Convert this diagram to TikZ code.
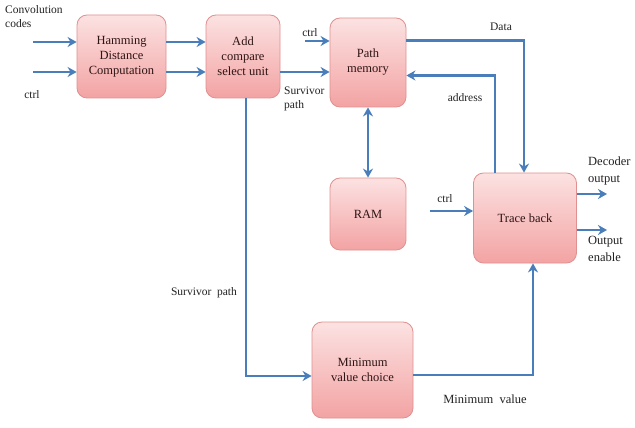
\documentclass[tikz,border=0pt]{standalone}
\usepackage{fontspec}
\setmainfont{Liberation Serif}
\usetikzlibrary{arrows.meta,calc}
\definecolor{arrowblue}{HTML}{4A7EBB}
\definecolor{boxtop}{HTML}{FCE2E2}
\definecolor{boxbot}{HTML}{F3A3A3}
\definecolor{boxline}{HTML}{E09090}
\definecolor{boxtext}{HTML}{2E1414}
\definecolor{labtext}{HTML}{222222}
\tikzset{
  blk/.style={draw=boxline, line width=0.8pt, rounded corners=10pt, top color=boxtop, bottom color=boxbot,
    text=boxtext, align=center, font=\fontsize{12.5}{15}\selectfont, inner sep=0pt},
  conn/.style={draw=arrowblue, line width=2.9pt, -{Stealth[length=9pt,width=10pt]}},
  both/.style={draw=arrowblue, line width=2.9pt, {Stealth[length=9pt,width=10pt]}-{Stealth[length=9pt,width=10pt]}},
  lab/.style={text=labtext, font=\fontsize{11.5}{14}\selectfont, inner sep=0pt},
}
\begin{document}
\begin{tikzpicture}[x=1pt,y=-1pt]
\useasboundingbox (0,0) rectangle (635,428);
\fill[white] (0,0) rectangle (635,428);
% blocks
\node[blk, minimum width=89pt, minimum height=83pt] (ham) at (121.5,56.5) {Hamming\\Distance\\Computation};
\node[blk, minimum width=74pt, minimum height=83pt] (acs) at (243,56.5) {Add\\compare\\select unit};
\node[blk, minimum width=76pt, minimum height=89pt] (pm) at (368,62.5) {Path\\memory};
\node[blk, minimum width=76pt, minimum height=72pt] (ram) at (368,214) {RAM};
\node[blk, minimum width=103pt, minimum height=90pt] (tb) at (525,218) {Trace back};
\node[blk, minimum width=101pt, minimum height=96pt] (mv) at (362.5,370) {Minimum\\value choice};
% free ends
\coordinate (cin) at (33,42);
\coordinate (ctin) at (33,72);
\coordinate (pmc) at (305,41);
\coordinate (tbc) at (430,211);
\coordinate (dout) at (607,194);
\coordinate (oen) at (607,230);
% connectors
\draw[conn] (cin) -- (ham.west |- cin);
\draw[conn] (ctin) -- (ham.west |- ctin);
\draw[conn] ([yshift=14.5pt]ham.east) -- ([yshift=14.5pt]acs.west);
\draw[conn] ([yshift=-15.5pt]ham.east) -- ([yshift=-15.5pt]acs.west);
\draw[conn] (pmc) -- (pm.west |- pmc);
\draw[conn] ([yshift=-15.5pt]acs.east) -- ([yshift=-9.5pt]pm.west);
\draw[conn] ([yshift=22pt]pm.east) -| ([xshift=-1pt]tb.north);
\draw[conn] ([xshift=-30pt]tb.north) |- ([yshift=-13pt]pm.east);
\draw[both] (pm.south) -- (ram.north);
\draw[conn] (tbc) -- (tb.west |- tbc);
\draw[conn] (tb.east |- dout) -- (dout);
\draw[conn] (tb.east |- oen) -- (oen);
\draw[conn] ([xshift=3pt]acs.south) |- ([yshift=-6pt]mv.west);
\draw[conn] ([yshift=-5pt]mv.east) -| ([xshift=8pt]tb.south);
% labels
\node[lab, anchor=north west, align=left] (lconv) at (5,5) {Convolution\\codes};
\node[lab] (lctrl1) at (32,95) {ctrl};
\node[lab] (lctrl2) at (310,33) {ctrl};
\node[lab, anchor=north west, align=left] (lsp1) at (284,87) {Survivor\\path};
\node[lab] (ldata) at (501,27) {Data};
\node[lab] (laddr) at (465,98) {address};
\node[lab] (lctrl3) at (445,199) {ctrl};
\node[lab, anchor=north west, align=left, font=\fontsize{12.5}{17}\selectfont] (ldec) at (588,157) {Decoder\\output};
\node[lab, anchor=north west, align=left, font=\fontsize{12.5}{17}\selectfont] (loen) at (588,236) {Output\\enable};
\node[lab] (lsp2) at (204,293) {Survivor\ \ path};
\node[lab, font=\fontsize{12.5}{15}\selectfont] (lmin) at (485,399) {Minimum\ \ value};
\end{tikzpicture}
\end{document}
